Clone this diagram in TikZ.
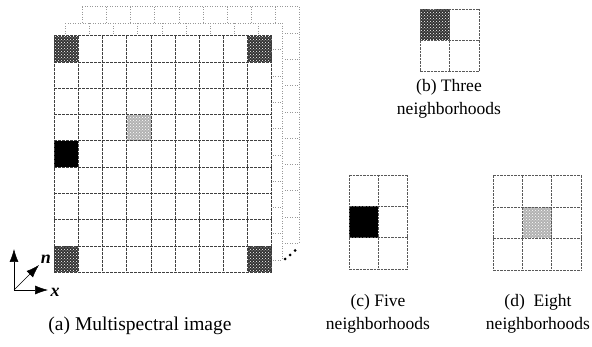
\documentclass[tikz,border=0pt]{standalone}
\usepackage{fontspec}
\setmainfont{Liberation Serif}
\usetikzlibrary{arrows.meta,patterns}
\tikzset{
  mainline/.style={draw=black!75, line width=0.8pt, dash pattern=on 3pt off 1pt},
  backline/.style={draw=black!40, line width=0.6pt, dash pattern=on 1pt off 1.5pt},
  panelline/.style={draw=black!65, line width=0.7pt, dash pattern=on 2.5pt off 1pt},
  darkcell/.style={fill=black!80, postaction={pattern=crosshatch dots, pattern color=white}},
  lightcell/.style={fill=black!30, postaction={pattern=crosshatch dots, pattern color=white}},
  blackcell/.style={fill=black},
  caption/.style={font=\fontsize{17.5}{23}\selectfont, inner sep=0pt, align=center},
  axis/.style={line width=0.5pt, -{Latex[length=13pt,width=9pt]}},
}
\begin{document}
\begin{tikzpicture}[x=1pt,y=-1pt]
\useasboundingbox (0,0) rectangle (592,347);
% back layer 3
\begin{scope}[shift={(82.3,6.7)}, x=24.16pt, y=-26.29pt]
  \fill[white] (0,0) rectangle (9,9);
  \foreach \i in {0,...,9} \draw[backline] (\i,0) -- (\i,9);
  \foreach \j in {0,...,9} \draw[backline] (0,\j) -- (9,\j);
\end{scope}
% back layer 2
\begin{scope}[shift={(65.3,23.4)}, x=24.16pt, y=-26.29pt]
  \fill[white] (0,0) rectangle (9,9);
  \foreach \i in {0,...,9} \draw[backline] (\i,0) -- (\i,9);
  \foreach \j in {0,...,9} \draw[backline] (0,\j) -- (9,\j);
\end{scope}
% main layer
\begin{scope}[shift={(54.3,35.7)}, x=24.16pt, y=-26.29pt]
  \fill[white] (0,0) rectangle (9,9);
  \path[darkcell] (0,0) rectangle (1,1);
  \path[darkcell] (8,0) rectangle (9,1);
  \path[darkcell] (0,8) rectangle (1,9);
  \path[darkcell] (8,8) rectangle (9,9);
  \path[blackcell] (0,4) rectangle (1,5);
  \path[lightcell] (3,3) rectangle (4,4);
  \foreach \i in {0,...,9} \draw[mainline] (\i,0) -- (\i,9);
  \foreach \j in {0,...,9} \draw[mainline] (0,\j) -- (9,\j);
\end{scope}
% dots
\fill (285,259) circle (1.5);
\fill (290,255) circle (1.5);
\fill (295,250.5) circle (1.5);
% axes
\coordinate (o) at (14,290);
\coordinate (ny) at (14,249);
\coordinate (nx) at (48,290);
\coordinate (nn) at (39,265);
\draw[axis] (o) -- (ny);
\draw[axis] (o) -- (nx);
\draw[axis] (o) -- (nn);
\node[caption, font=\fontsize{18}{20}\selectfont\bfseries\itshape] (ln) at (46,259) {n};
\node[caption, font=\fontsize{18}{20}\selectfont\bfseries\itshape] (lx) at (55,292) {x};
% (b)
\begin{scope}[shift={(420,9)}, x=29.5pt, y=-31.3pt]
  \path[darkcell] (0,0) rectangle (1,1);
  \foreach \i in {0,...,2} \draw[panelline] (\i,0) -- (\i,2);
  \foreach \j in {0,...,2} \draw[panelline] (0,\j) -- (2,\j);
\end{scope}
% (c)
\begin{scope}[shift={(349,175)}, x=29.3pt, y=-31.3pt]
  \path[blackcell] (0,1) rectangle (1,2);
  \foreach \i in {0,...,2} \draw[panelline] (\i,0) -- (\i,3);
  \foreach \j in {0,...,3} \draw[panelline] (0,\j) -- (2,\j);
\end{scope}
% (d)
\begin{scope}[shift={(493.3,175.7)}, x=29.2pt, y=-31.4pt]
  \path[lightcell] (1,1) rectangle (2,2);
  \foreach \i in {0,...,3} \draw[panelline] (\i,0) -- (\i,3);
  \foreach \j in {0,...,3} \draw[panelline] (0,\j) -- (3,\j);
\end{scope}
% captions
\node[caption, font=\fontsize{19.5}{23}\selectfont] (ca) at (140,326) {(a) Multispectral image};
\node[caption] (cb) at (449,99) {(b) Three\\neighborhoods};
\node[caption] (cc) at (378,314) {(c) Five\\neighborhoods};
\node[caption] (cd) at (538,314) {(d)\ \ Eight\\neighborhoods};
\end{tikzpicture}
\end{document}
